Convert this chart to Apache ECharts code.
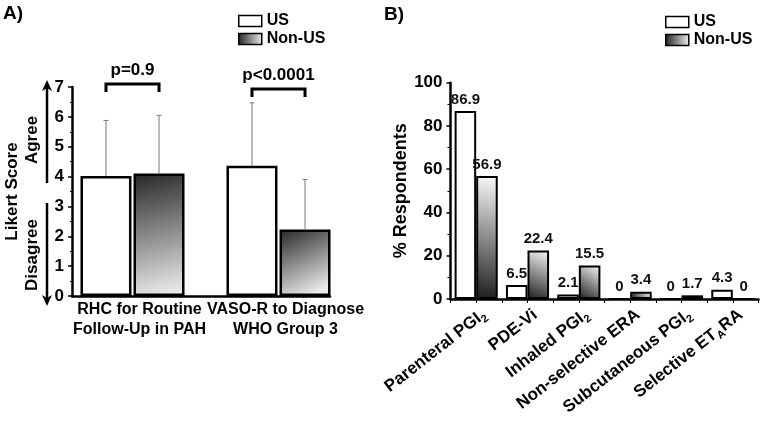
<!DOCTYPE html>
<html><head><meta charset="utf-8">
<script src="https://cdn.jsdelivr.net/npm/echarts@6/dist/echarts.min.js"></script>
<style>html,body{margin:0;padding:0;background:#fff}#c{width:760px;height:422px}</style>
</head><body><div id="c"></div>
<script>
// ---- Panel A data ----
const catsA = ['RHC for Routine\nFollow-Up in PAH', 'VASO-R to Diagnose\nWHO Group 3'];
const usA = [4.02, 4.36];
const nonUsA = [4.10, 2.23];
const usSdA = [1.86, 2.11];
const nonUsSdA = [1.95, 1.67];
const pLabels = ['p=0.9', 'p<0.0001'];
const bracketLevels = [7.1, 6.93];
const yTicksA = [0, 1, 2, 3, 4, 5, 6, 7];
// ---- Panel B data ----
const catsB = ['Parenteral PGI{s|2}', 'PDE-Vi', 'Inhaled PGI{s|2}', 'Non-selective ERA', 'Subcutaneous PGI{s|2}', 'Selective ET{s|A}RA'];
const usB = [86.9, 6.5, 2.1, 0, 0, 4.3];
const nonUsB = [56.9, 22.4, 15.5, 3.4, 1.7, 0];
const yTicksB = [0, 20, 40, 60, 80, 100];

const FONT = 'Liberation Sans, Arial, sans-serif';
const BAR_W_A = 51;
const GAP_A = 0.04;
const HALF_A = BAR_W_A * (1 + GAP_A) / 2;

const gradA = new echarts.graphic.LinearGradient(0, 0, 0.6, 1, [{offset: 0, color: '#262626'}, {offset: 1, color: '#ececec'}]);
const gradB = new echarts.graphic.LinearGradient(1, 0, 0, 1, [{offset: 0, color: '#fbfbfb'}, {offset: 1, color: '#1c1c1c'}]);
const gradLegend = new echarts.graphic.LinearGradient(0, 0, 1, 0, [{offset: 0, color: '#222'}, {offset: 1, color: '#eee'}]);

function errItem(sign) {
  return function (params, api) {
    const idx = api.value(0), m = api.value(1), sd = api.value(2);
    const c = api.coord([idx, m]);
    const t = api.coord([idx, m + sd]);
    const x = c[0] + sign * HALF_A;
    return {type: 'group', children: [
      {type: 'line', shape: {x1: x, y1: c[1], x2: x, y2: t[1]}, style: {stroke: '#7a7a7a', lineWidth: 1}},
      {type: 'line', shape: {x1: x - 2.5, y1: t[1], x2: x + 2.5, y2: t[1]}, style: {stroke: '#7a7a7a', lineWidth: 1}}
    ]};
  };
}
function bracketItem(params, api) {
  const idx = api.value(0), lvl = api.value(1);
  const p = api.coord([idx, lvl]);
  const xl = p[0] - HALF_A, xr = p[0] + HALF_A;
  return {type: 'group', children: [
    {type: 'polyline', shape: {points: [[xl, p[1] + 8], [xl, p[1]], [xr, p[1]], [xr, p[1] + 8]]},
      style: {stroke: '#000', lineWidth: 3, fill: null}},
    {type: 'text', x: p[0], y: p[1] - 5, style: {text: pLabels[params.dataIndex], align: 'center', verticalAlign: 'bottom',
      fontSize: 17, fontWeight: 'bold', fontFamily: FONT, fill: '#000'}}
  ]};
}

const chart = echarts.init(document.getElementById('c'), null, {renderer: 'canvas'});
const legendText = {fontSize: 16, fontWeight: 'bold', color: '#000', fontFamily: FONT};
const legendData = [{name: 'US', itemStyle: {color: '#fff', borderColor: '#000', borderWidth: 1.5}},
                    {name: 'Non-US', itemStyle: {color: gradLegend, borderColor: '#000', borderWidth: 1.5}}];
const option = {
  animation: false,
  textStyle: {fontFamily: FONT},
  grid: [
    {left: 59.5, width: 292, top: 87, bottom: 126},
    {left: 72, width: 258, top: 87, bottom: 126},
    {left: 450.5, width: 308, top: 82.7, bottom: 123}
  ],
  legend: [
    {orient: 'vertical', left: 238, top: 13, padding: 0, itemWidth: 23, itemHeight: 11, itemGap: 2, selectedMode: false, icon: 'rect',
      textStyle: legendText, data: legendData},
    {orient: 'vertical', left: 665, top: 14, padding: 0, itemWidth: 23, itemHeight: 11, itemGap: 2, selectedMode: false, icon: 'rect',
      textStyle: legendText, data: legendData}
  ],
  xAxis: [
    {gridIndex: 0, type: 'category', data: catsA, axisLine: {show: false}, axisTick: {show: false},
      axisLabel: {interval: 0, fontSize: 16, fontWeight: 'bold', color: '#000', lineHeight: 20, margin: 4, padding: [0, 0, 0, 14], fontFamily: FONT}},
    {gridIndex: 1, type: 'category', data: ['', ''], axisLine: {lineStyle: {color: '#000', width: 2.5}}, axisTick: {show: false}, axisLabel: {show: false}},
    {gridIndex: 2, type: 'category', data: catsB, position: 'bottom', axisLine: {lineStyle: {color: '#000', width: 2.5}}, axisTick: {show: false},
      axisLabel: {interval: 0, rotate: 38, margin: 20, padding: [0, -10, 0, 0], fontSize: 17, fontWeight: 'bold', color: '#000', fontFamily: FONT,
        rich: {s: {fontSize: 11, fontWeight: 'bold', fontFamily: FONT, color: '#000', verticalAlign: 'bottom', lineHeight: 22}}}},
    {gridIndex: 2, type: 'category', data: ['', '', '', '', '', '', '', '', '', '', '', ''], position: 'bottom',
      axisLine: {show: false}, axisTick: {show: true, length: 4, lineStyle: {color: '#000', width: 1}}, axisLabel: {show: false}}
  ],
  yAxis: [
    {gridIndex: 0, type: 'value', min: yTicksA[0], max: yTicksA[yTicksA.length - 1], interval: 1, show: false},
    {gridIndex: 1, type: 'value', min: yTicksA[0], max: yTicksA[yTicksA.length - 1], interval: 1,
      name: 'Likert Score', nameLocation: 'middle', nameRotate: 90, nameGap: 51,
      nameTextStyle: {fontSize: 17, fontWeight: 'bold', color: '#000', fontFamily: FONT},
      axisLine: {show: true, lineStyle: {color: '#000', width: 2.5}},
      axisTick: {show: true, length: 4, lineStyle: {color: '#000', width: 1.5}},
      minorTick: {show: true, splitNumber: 2, length: 2, lineStyle: {color: '#000', width: 1}},
      splitLine: {show: false},
      axisLabel: {fontSize: 17, fontWeight: 'bold', color: '#000', margin: 8, fontFamily: FONT}},
    {gridIndex: 2, type: 'value', min: yTicksB[0], max: yTicksB[yTicksB.length - 1], interval: 20,
      name: '% Respondents', nameLocation: 'middle', nameRotate: 90, nameGap: 40,
      nameTextStyle: {fontSize: 18, fontWeight: 'bold', color: '#000', fontFamily: FONT},
      axisLine: {show: true, lineStyle: {color: '#000', width: 2.5}},
      axisTick: {show: true, length: 4, lineStyle: {color: '#000', width: 1.5}},
      minorTick: {show: true, splitNumber: 2, length: 3, lineStyle: {color: '#000', width: 1}},
      splitLine: {show: false},
      axisLabel: {fontSize: 17, fontWeight: 'bold', color: '#000', margin: 8, fontFamily: FONT}}
  ],
  series: [
    {name: 'US', type: 'bar', xAxisIndex: 0, yAxisIndex: 0, data: usA, barWidth: BAR_W_A, barGap: (GAP_A * 100) + '%',
      itemStyle: {color: '#fff', borderColor: '#000', borderWidth: 2.5}},
    {name: 'Non-US', type: 'bar', xAxisIndex: 0, yAxisIndex: 0, data: nonUsA, barWidth: BAR_W_A, barGap: (GAP_A * 100) + '%',
      itemStyle: {color: gradA, borderColor: '#000', borderWidth: 2.5}},
    {type: 'custom', xAxisIndex: 0, yAxisIndex: 0, renderItem: errItem(-1), z: 5,
      data: usA.map((v, i) => [i, v, usSdA[i]])},
    {type: 'custom', xAxisIndex: 0, yAxisIndex: 0, renderItem: errItem(1), z: 5,
      data: nonUsA.map((v, i) => [i, v, nonUsSdA[i]])},
    {type: 'custom', xAxisIndex: 0, yAxisIndex: 0, renderItem: bracketItem, z: 5, clip: false,
      data: bracketLevels.map((v, i) => [i, v])},
    {name: 'US', type: 'bar', xAxisIndex: 2, yAxisIndex: 2, data: usB, barCategoryGap: '16%', barGap: '0%',
      itemStyle: {color: '#fff', borderColor: '#000', borderWidth: 2},
      label: {show: true, position: 'top', distance: 4, fontSize: 15, fontWeight: 'bold', color: '#111', fontFamily: FONT}},
    {name: 'Non-US', type: 'bar', xAxisIndex: 2, yAxisIndex: 2, data: nonUsB, barCategoryGap: '16%', barGap: '0%',
      itemStyle: {color: gradB, borderColor: '#000', borderWidth: 2},
      label: {show: true, position: 'top', distance: 4, fontSize: 15, fontWeight: 'bold', color: '#111', fontFamily: FONT}}
  ],
  graphic: [
    {type: 'text', left: 3, top: 4, style: {text: 'A)', fontSize: 19, fontWeight: 'bold', fontFamily: FONT, fill: '#000'}},
    {type: 'text', left: 384, top: 5, style: {text: 'B)', fontSize: 19, fontWeight: 'bold', fontFamily: FONT, fill: '#000'}},
    {type: 'text', x: 32, y: 140, rotation: Math.PI / 2, style: {text: 'Agree', align: 'center', verticalAlign: 'middle', fontSize: 17, fontWeight: 'bold', fontFamily: FONT, fill: '#000'}},
    {type: 'text', x: 32, y: 255, rotation: Math.PI / 2, style: {text: 'Disagree', align: 'center', verticalAlign: 'middle', fontSize: 17, fontWeight: 'bold', fontFamily: FONT, fill: '#000'}},
    {type: 'line', shape: {x1: 47, y1: 88, x2: 47, y2: 183}, style: {stroke: '#000', lineWidth: 2.5}},
    {type: 'polygon', shape: {points: [[47, 80], [42, 91], [47, 88], [52, 91]]}, style: {fill: '#000'}},
    {type: 'line', shape: {x1: 47, y1: 203, x2: 47, y2: 298}, style: {stroke: '#000', lineWidth: 2.5}},
    {type: 'polygon', shape: {points: [[47, 306], [42, 295], [47, 298], [52, 295]]}, style: {fill: '#000'}}
  ]
};
chart.setOption(option);
</script></body></html>
